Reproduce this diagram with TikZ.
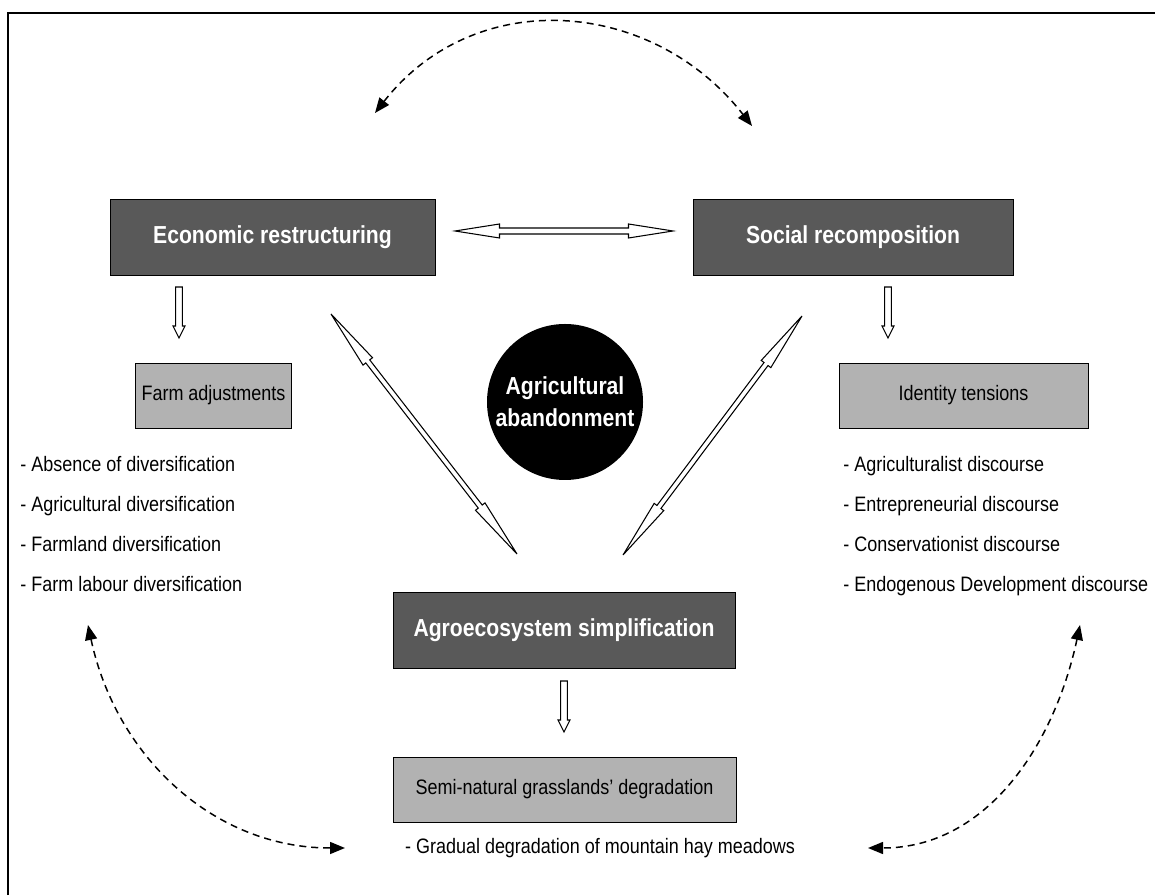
\documentclass[tikz,border=0pt]{standalone}
\usepackage{fontspec}
\setmainfont{Liberation Sans}[FakeStretch=0.86]
\usetikzlibrary{arrows.meta,calc}
\definecolor{boxdark}{RGB}{89,89,89}
\definecolor{boxlight}{RGB}{178,178,178}
\tikzset{
  bigbox/.style={draw=black, fill=boxdark, text=white, minimum height=1.52cm,
    font=\bfseries\fontsize{14}{18}\selectfont},
  subbox/.style={draw=black, fill=boxlight, minimum height=1.3cm,
    font=\fontsize{11.9}{14}\selectfont},
  listline/.style={anchor=base west, inner sep=0pt, font=\fontsize{11.9}{14}\selectfont},
  link/.style={dash pattern=on 0.14cm off 0.1cm, line width=0.85pt,
    {Triangle[length=0.3cm,width=0.24cm]}-{Triangle[length=0.3cm,width=0.24cm]}},
  % #1 head length, #2 head half width, #3 shaft half width
  hollow/.style n args={3}{draw=black, fill=white, line width=0.6pt, to path={
    let \p1=(\tikztostart), \p2=(\tikztotarget), \n1={atan2(\y2-\y1,\x2-\x1)} in
    ($(\p1)+(\n1+90:#3)$)
    -- ($(\p2)+(\n1+180:#1)+(\n1+90:#3)$) -- ($(\p2)+(\n1+180:#1)+(\n1+90:#2)$)
    -- (\p2)
    -- ($(\p2)+(\n1+180:#1)+(\n1-90:#2)$) -- ($(\p2)+(\n1+180:#1)+(\n1-90:#3)$)
    -- ($(\p1)+(\n1-90:#3)$) -- cycle}},
  hollow both/.style n args={3}{draw=black, fill=white, line width=0.6pt, to path={
    let \p1=(\tikztostart), \p2=(\tikztotarget), \n1={atan2(\y2-\y1,\x2-\x1)} in
    (\p1)
    -- ($(\p1)+(\n1:#1)+(\n1+90:#2)$) -- ($(\p1)+(\n1:#1)+(\n1+90:#3)$)
    -- ($(\p2)+(\n1+180:#1)+(\n1+90:#3)$) -- ($(\p2)+(\n1+180:#1)+(\n1+90:#2)$)
    -- (\p2)
    -- ($(\p2)+(\n1+180:#1)+(\n1-90:#2)$) -- ($(\p2)+(\n1+180:#1)+(\n1-90:#3)$)
    -- ($(\p1)+(\n1:#1)+(\n1-90:#3)$) -- ($(\p1)+(\n1:#1)+(\n1-90:#2)$)
    -- cycle}}
}
\begin{document}
\begin{tikzpicture}
  \useasboundingbox (0,0) rectangle (23.1,17.9);
  \draw[line width=1.1pt] (0.16,0) -- (0.16,17.64) -- (23.1,17.64);

  % boxes
  \node[bigbox, minimum width=6.5cm] (econ) at (5.45,13.16) {Economic restructuring};
  \node[bigbox, minimum width=6.4cm] (social) at (17.06,13.16) {Social recomposition};
  \node[subbox, minimum width=3.06cm] (farm) at (4.27,9.99) {Farm adjustments};
  \node[subbox, minimum width=4.98cm] (identity) at (19.27,9.99) {Identity tensions};
  \node[circle, fill=black, text=white, minimum size=3.12cm, inner sep=0pt, align=center,
    font=\bfseries\fontsize{14}{18}\selectfont] (aband) at (11.3,9.86) {Agricultural\\abandonment};
  \node[bigbox, minimum width=6.84cm] (agro) at (11.28,5.29) {Agroecosystem simplification};
  \node[subbox, minimum width=6.86cm] (semi) at (11.29,2.11) {Semi-natural grasslands’ degradation};

  % lists
  \node[listline] (farm1) at (0.4,8.46) {- Absence of diversification};
  \node[listline] (farm2) at (0.4,7.66) {- Agricultural diversification};
  \node[listline] (farm3) at (0.4,6.86) {- Farmland diversification};
  \node[listline] (farm4) at (0.4,6.06) {- Farm labour diversification};
  \node[listline] (ident1) at (16.86,8.46) {- Agriculturalist discourse};
  \node[listline] (ident2) at (16.86,7.66) {- Entrepreneurial discourse};
  \node[listline] (ident3) at (16.86,6.86) {- Conservationist discourse};
  \node[listline] (ident4) at (16.86,6.06) {- Endogenous Development discourse};
  \node[font=\fontsize{11.9}{14}\selectfont] (gradual) at (12.0,0.94)
    {- Gradual degradation of mountain hay meadows};

  % hollow arrows
  \coordinate (h1) at (9.1,13.28);
  \coordinate (h2) at (13.46,13.28);
  \coordinate (d1) at (6.62,11.62);
  \coordinate (d2) at (10.34,6.82);
  \coordinate (d3) at (16.04,11.58);
  \coordinate (d4) at (12.46,6.8);
  \coordinate (e1) at (3.58,12.16);
  \coordinate (e2) at (3.58,11.14);
  \coordinate (s1) at (17.76,12.16);
  \coordinate (s2) at (17.76,11.14);
  \coordinate (a1) at (11.28,4.28);
  \coordinate (a2) at (11.28,3.26);
  \draw[hollow both={0.89cm}{0.14cm}{0.06cm}] (h1) to (h2);
  \draw[hollow both={1.2cm}{0.12cm}{0.05cm}] (d1) to (d2);
  \draw[hollow both={1.2cm}{0.12cm}{0.05cm}] (d3) to (d4);
  \draw[hollow={0.24cm}{0.12cm}{0.066cm}] (e1) to (e2);
  \draw[hollow={0.24cm}{0.12cm}{0.066cm}] (s1) to (s2);
  \draw[hollow={0.24cm}{0.12cm}{0.066cm}] (a1) to (a2);

  % dashed links
  \coordinate (t1) at (7.5,15.64);
  \coordinate (t2) at (15.04,15.38);
  \coordinate (l1) at (1.76,5.4);
  \coordinate (l2) at (6.9,0.94);
  \coordinate (r1) at (21.6,5.4);
  \coordinate (r2) at (17.36,0.94);
  \draw[link] (t1) to[out=52,in=128,looseness=1.1] (t2);
  \draw[link] (l1) to[out=-78,in=180] (l2);
  \draw[link] (r1) to[out=-102,in=0] (r2);
\end{tikzpicture}
\end{document}
